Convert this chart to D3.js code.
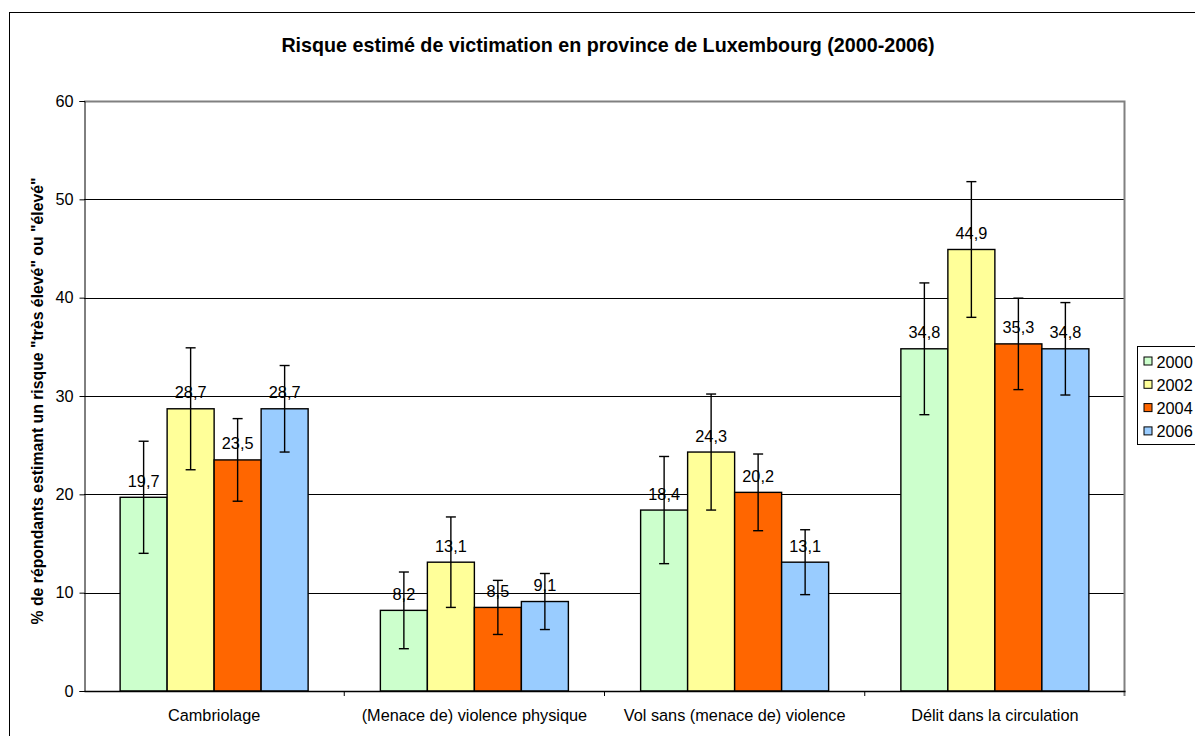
<!DOCTYPE html>
<html>
<head>
<meta charset="utf-8">
<script src="https://cdn.jsdelivr.net/npm/d3@7"></script>
<style>
  body { margin: 0; background: #fff; }
  svg text { font-family: "Liberation Sans", Arial, sans-serif; }
</style>
</head>
<body>
<div id="chart"></div>
<script>
// data
const categories = ["Cambriolage", "(Menace de) violence physique", "Vol sans (menace de) violence", "Délit dans la circulation"];
const years = ["2000", "2002", "2004", "2006"];
const values2000 = [19.7, 8.2, 18.4, 34.8];
const values2002 = [28.7, 13.1, 24.3, 44.9];
const values2004 = [23.5, 8.5, 20.2, 35.3];
const values2006 = [28.7, 9.1, 13.1, 34.8];
const errors2000 = [5.7, 3.9, 5.45, 6.7];
const errors2002 = [6.2, 4.6, 5.9, 6.9];
const errors2004 = [4.2, 2.75, 3.9, 4.65];
const errors2006 = [4.4, 2.85, 3.3, 4.7];
const yTicks = [0, 10, 20, 30, 40, 50, 60];
const colors = ["#CCFFCC", "#FFFF99", "#FF6600", "#99CCFF"];

const allValues = [values2000, values2002, values2004, values2006];
const allErrors = [errors2000, errors2002, errors2004, errors2006];

const W = 1195, H = 736;
const plot = {left: 84, right: 1125, top: 101, bottom: 691};
const fs = 16.3; // body font size

const svg = d3.select("#chart").append("svg")
  .attr("width", W).attr("height", H);

// outer chart border
svg.append("rect")
  .attr("x", 9.5).attr("y", 12.5)
  .attr("width", 1300).attr("height", 900)
  .attr("fill", "#fff").attr("stroke", "#000").attr("stroke-width", 1);

// title
svg.append("text")
  .attr("x", 608).attr("y", 52)
  .attr("text-anchor", "middle")
  .attr("font-size", 19.7).attr("font-weight", "bold")
  .text("Risque estimé de victimation en province de Luxembourg (2000-2006)");

const x = d3.scaleBand().domain(categories).range([plot.left, plot.right]);
const y = d3.scaleLinear().domain([0, 60]).range([plot.bottom, plot.top]);

const barW = x.bandwidth() * 0.1806;
const groupOff = (x.bandwidth() - barW * years.length) / 2;

// grid lines
svg.append("g").selectAll("line")
  .data(yTicks.filter(t => t > 0 && t < 60))
  .join("line")
  .attr("x1", plot.left).attr("x2", plot.right)
  .attr("y1", d => Math.round(y(d)) + 0.5).attr("y2", d => Math.round(y(d)) + 0.5)
  .attr("stroke", "#000").attr("stroke-width", 1);

// plot frame (top + right, gray)
svg.append("path")
  .attr("d", `M${plot.left},${plot.top + 0.5}H${plot.right - 0.5}V${plot.bottom + 5}`)
  .attr("fill", "none").attr("stroke", "#808080").attr("stroke-width", 2);

// y axis
const yAxis = d3.axisLeft(y).tickValues(yTicks).tickSize(5).tickPadding(6);
const gy = svg.append("g")
  .attr("transform", `translate(${plot.left + 0.5},0)`)
  .call(yAxis);
gy.select(".domain").attr("stroke", "#000");
gy.selectAll(".tick line").attr("stroke", "#000");
gy.selectAll(".tick text").attr("font-size", fs).attr("fill", "#000")
  .attr("font-family", "Liberation Sans, Arial, sans-serif");

// y axis title
svg.append("text")
  .attr("transform", `translate(43,${(plot.top + plot.bottom) / 2 + 5}) rotate(-90)`)
  .attr("text-anchor", "middle")
  .attr("font-size", 15.8).attr("font-weight", "bold")
  .text('% de répondants estimant un risque "très élevé" ou "élevé"');

// bars
years.forEach((yr, s) => {
  const g = svg.append("g");
  const rows = categories.map((c, i) => ({cat: c, v: allValues[s][i], e: allErrors[s][i]}));
  const bx = d => x(d.cat) + groupOff + s * barW;

  g.selectAll("rect")
    .data(rows)
    .join("rect")
    .attr("x", bx)
    .attr("y", d => y(d.v))
    .attr("width", barW)
    .attr("height", d => y(0) - y(d.v))
    .attr("fill", colors[s])
    .attr("stroke", "#000").attr("stroke-width", 1.4);

  // value labels
  g.selectAll("text")
    .data(rows)
    .join("text")
    .attr("x", d => bx(d) + barW / 2)
    .attr("y", d => y(d.v) - 10.5)
    .attr("text-anchor", "middle")
    .attr("font-size", fs)
    .text(d => String(d.v).replace(".", ","));

  // error bars
  const eb = g.selectAll(".err").data(rows).join("g").attr("class", "err")
    .attr("stroke", "#000").attr("stroke-width", 1.4);
  eb.append("line")
    .attr("x1", d => bx(d) + barW / 2).attr("x2", d => bx(d) + barW / 2)
    .attr("y1", d => y(d.v + d.e)).attr("y2", d => y(d.v - d.e));
  eb.append("line")
    .attr("x1", d => bx(d) + barW / 2 - 5).attr("x2", d => bx(d) + barW / 2 + 5)
    .attr("y1", d => y(d.v + d.e)).attr("y2", d => y(d.v + d.e));
  eb.append("line")
    .attr("x1", d => bx(d) + barW / 2 - 5).attr("x2", d => bx(d) + barW / 2 + 5)
    .attr("y1", d => y(d.v - d.e)).attr("y2", d => y(d.v - d.e));
});

// x axis
const xAxis = d3.axisBottom(x).tickSize(0).tickPadding(18);
const gx = svg.append("g")
  .attr("transform", `translate(0,${plot.bottom})`)
  .call(xAxis);
gx.select(".domain").attr("stroke", "#000").attr("stroke-width", 1.3);
gx.selectAll(".tick text").attr("font-size", fs).attr("fill", "#000")
  .attr("font-family", "Liberation Sans, Arial, sans-serif");
// category separator ticks
svg.append("g").selectAll("line")
  .data(categories.map(c => x(c)).slice(1))
  .join("line")
  .attr("x1", d => d).attr("x2", d => d)
  .attr("y1", plot.bottom).attr("y2", plot.bottom + 5)
  .attr("stroke", "#000");

// legend
const leg = svg.append("g").attr("transform", "translate(1137.5,346.5)");
leg.append("rect")
  .attr("width", 90).attr("height", 98)
  .attr("fill", "#fff").attr("stroke", "#000");
years.forEach((yr, i) => {
  const cy = 15 + i * 23.3;
  leg.append("rect")
    .attr("x", 6.5).attr("y", cy - 4.5)
    .attr("width", 8).attr("height", 8)
    .attr("fill", colors[i]).attr("stroke", "#000");
  leg.append("text")
    .attr("x", 19).attr("y", cy + 6)
    .attr("font-size", fs)
    .text(yr);
});
</script>
</body>
</html>
